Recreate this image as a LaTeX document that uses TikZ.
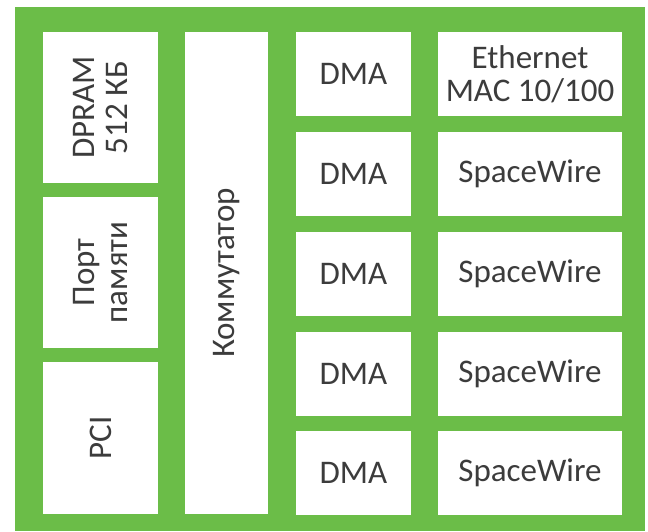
\documentclass[tikz,border=0pt]{standalone}
\usepackage{fontspec}
\setmainfont{Carlito}
\definecolor{boardgreen}{RGB}{107,189,72}
\definecolor{textgray}{RGB}{60,60,60}

\begin{document}
\begin{tikzpicture}[x=1pt,y=-1pt,
        blk/.style={fill=white,inner sep=0pt,align=center,text=textgray,
            font=\fontsize{33}{33.5}\selectfont}]
        \fill[white] (0,0) rectangle (648,531);
        \fill[boardgreen] (15,7) rectangle (645,531);
        \node[blk,rotate=90,minimum width=151,minimum height=115] (dpram) at (100.5,107.5) {DPRAM\\512 КБ};
        \node[blk,rotate=90,minimum width=151,minimum height=115] (port) at (100.5,272.5) {Порт\\памяти};
        \node[blk,rotate=90,minimum width=152,minimum height=115] (pci) at (100.5,438) {PCI};
        \node[blk,rotate=90,minimum width=482,minimum height=83] (komm) at (226.5,273) {Коммутатор};
        \node[blk,minimum width=115,minimum height=84] (dma1) at (353.5,74) {DMA};
        \node[blk,minimum width=184,minimum height=84] (eth) at (530,74) {Ethernet\\MAC 10/100};
        \foreach \i/\y in {2/174,3/274,4/374,5/473} {
            \node[blk,minimum width=115,minimum height=84] (dma\i) at (353.5,\y) {DMA};
            \node[blk,minimum width=184,minimum height=84] (spw\i) at (530,\y) {SpaceWire};
        }
    \end{tikzpicture}
\end{document}
